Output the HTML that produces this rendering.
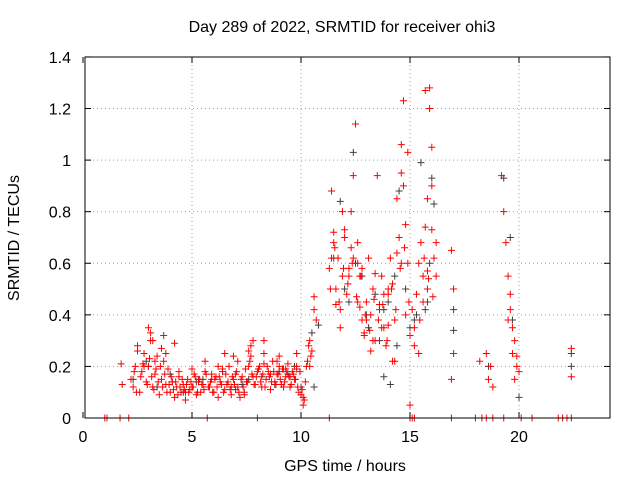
<!DOCTYPE html>
<html><head><meta charset="utf-8"><style>
body{margin:0;background:#fff;}
svg text{font-family:"Liberation Sans",sans-serif;font-size:16px;fill:#000;}
</style></head><body>
<svg id="chart" width="640" height="480" xmlns="http://www.w3.org/2000/svg">
<rect width="640" height="480" fill="#fff"/>
<g id="grid"></g>
<g id="pts"></g>
<rect x="85" y="57" width="525" height="361" fill="none" stroke="#000" stroke-width="1"/>
<g id="ticks"></g>
<text x="342" y="32" text-anchor="middle">Day 289 of 2022, SRMTID for receiver ohi3</text>
<text x="345" y="471" text-anchor="middle">GPS time / hours</text>
<text transform="translate(19,238) rotate(-90)" text-anchor="middle">SRMTID / TECUs</text>
</svg>
<script>
const xTicks=[0,5,10,15,20];
const yTicks=[0,0.2,0.4,0.6,0.8,1,1.2,1.4];
const yTickLabels=["0","0.2","0.4","0.6","0.8","1","1.2","1.4"];
const redT=[1.0,1.1,1.7,2.1,5.7,8.0,11.3,15.0,15.1,15.2,16.9,18.0,18.3,18.5,18.8,19.3,20.1,20.6,21.8,22.0,22.2,22.4,
1.75,1.8,2.2,2.3,2.4,2.5,2.6,2.7,2.8,2.9,3.0,3.1,3.2,3.3,3.4,3.5,3.6,3.7,3.8,3.9,4.0,4.1,4.2,4.3,4.4,4.5,4.6,4.7,4.8,4.9,5.0,5.1,5.2,5.3,5.4,5.5,5.6,5.8,5.9,6.0,6.1,6.2,6.3,6.4,6.5,6.6,6.7,6.8,6.9,7.0,7.1,7.2,7.3,7.4,7.5,7.6,7.7,7.8,7.9,8.1,8.2,8.3,8.4,8.5,8.6,8.7,8.8,8.9,9.0,9.1,9.2,9.3,9.4,9.5,9.6,9.7,9.8,9.9,10.0,10.1,10.2,10.3,10.4,10.5,
2.5,2.8,3.1,3.3,3.6,3.8,4.1,4.4,4.7,5.0,5.3,5.6,5.9,6.2,6.5,6.8,7.1,7.4,7.7,8.0,8.3,8.6,8.9,9.2,9.5,9.8,10.1,10.4,
3.0,3.2,3.7,4.2,6.9,7.6,7.8,8.3,9.0,9.3,9.8,10.6,10.6,10.7,
2.35,2.45,2.65,2.75,2.95,3.05,3.15,3.25,3.35,3.45,3.55,3.65,3.75,3.85,3.95,4.05,4.15,4.25,4.35,4.45,4.55,4.65,4.75,4.85,4.95,5.05,5.15,5.25,5.35,5.45,5.55,5.65,5.75,5.85,5.95,6.05,6.15,6.25,6.35,6.45,6.55,6.65,6.75,6.85,6.95,7.05,7.15,7.25,7.35,7.45,7.55,7.65,7.75,7.85,7.95,8.05,8.15,8.25,8.35,8.45,8.55,8.65,8.75,8.85,8.95,9.05,9.15,9.25,9.35,9.45,9.55,9.65,9.75,9.85,9.95,10.05,10.15,10.25,10.35,10.45,
11.3,11.4,11.5,11.6,11.7,11.8,11.9,12.0,12.1,12.2,12.3,12.4,12.5,12.6,12.7,12.8,12.9,13.0,13.1,13.2,13.3,13.4,13.5,13.6,13.7,13.8,13.9,14.0,14.1,14.2,14.3,14.4,14.5,14.6,14.7,14.8,14.9,15.0,15.1,15.2,15.3,15.4,15.5,15.6,15.7,15.8,15.9,16.0,16.1,16.2,
11.4,11.6,11.8,12.0,12.2,12.4,12.6,12.8,13.0,13.2,13.4,13.6,13.8,14.0,14.2,14.4,14.6,14.8,15.0,15.2,15.4,15.6,15.8,16.0,16.2,
11.35,11.55,11.75,11.95,12.15,12.35,12.55,12.75,12.95,13.15,13.35,13.55,13.75,13.95,14.15,14.35,14.55,14.75,14.95,15.45,15.65,15.85,16.05,
11.5,11.9,12.3,12.6,12.7,13.3,13.7,14.0,14.3,14.7,14.9,15.7,15.9,16.0,15.8,14.6,12.9,16.9,17.0,17.0,16.9,18.2,18.5,18.6,18.7,18.8,19.2,19.3,19.4,19.5,19.6,19.7,19.8,19.9,20.0,19.5,19.6,19.7,22.4,22.4,19.8,19.9];
const redV=[0,0,0,0,0,0,0,0,0,0,0,0,0,0,0,0,0,0,0,0,0,0,
0.21,0.13,0.15,0.12,0.2,0.28,0.1,0.18,0.25,0.14,0.2,0.3,0.12,0.17,0.24,0.09,0.15,0.22,0.13,0.19,0.1,0.14,0.08,0.12,0.16,0.1,0.13,0.07,0.15,0.11,0.12,0.17,0.09,0.14,0.1,0.13,0.18,0.12,0.15,0.1,0.16,0.08,0.14,0.19,0.11,0.13,0.2,0.09,0.15,0.17,0.12,0.08,0.16,0.1,0.14,0.2,0.28,0.16,0.13,0.2,0.12,0.25,0.15,0.18,0.11,0.22,0.14,0.17,0.2,0.13,0.19,0.16,0.21,0.12,0.18,0.15,0.2,0.1,0.09,0.05,0.14,0.22,0.3,0.26,
0.26,0.2,0.33,0.22,0.27,0.25,0.14,0.18,0.1,0.19,0.15,0.22,0.17,0.2,0.25,0.12,0.22,0.09,0.24,0.18,0.21,0.17,0.22,0.12,0.16,0.19,0.08,0.2,
0.35,0.3,0.32,0.29,0.24,0.26,0.3,0.3,0.24,0.19,0.25,0.47,0.42,0.38,
0.18,0.1,0.16,0.21,0.13,0.23,0.16,0.11,0.19,0.14,0.2,0.12,0.17,0.1,0.13,0.16,0.11,0.14,0.09,0.12,0.15,0.11,0.13,0.1,0.14,0.12,0.16,0.1,0.15,0.13,0.11,0.17,0.12,0.14,0.1,0.15,0.12,0.16,0.13,0.1,0.17,0.14,0.11,0.16,0.13,0.18,0.1,0.15,0.12,0.19,0.14,0.22,0.17,0.13,0.16,0.19,0.14,0.17,0.12,0.2,0.16,0.14,0.18,0.13,0.17,0.15,0.19,0.14,0.18,0.16,0.13,0.17,0.15,0.12,0.18,0.11,0.07,0.2,0.28,0.24,
0.58,0.88,0.72,0.5,0.62,0.42,0.55,0.7,0.48,0.58,0.8,0.62,1.14,0.45,0.55,0.38,0.32,0.45,0.62,0.4,0.5,0.3,0.94,0.44,0.55,0.35,0.28,0.48,0.62,0.52,0.22,0.85,0.7,0.95,1.23,0.75,1.03,0.05,0.42,0.35,0.48,0.6,0.68,0.55,1.27,0.5,1.2,0.9,0.62,0.68,
0.62,0.44,0.35,0.73,0.55,0.94,0.68,0.58,0.38,0.26,0.56,0.42,0.48,0.36,0.22,0.64,0.6,0.4,0.32,0.28,0.25,0.45,0.57,0.73,0.55,
0.5,0.66,0.45,0.58,0.52,0.6,0.47,0.55,0.4,0.34,0.46,0.38,0.44,0.3,0.5,0.42,0.58,0.66,0.45,0.38,0.62,0.54,0.47,
0.68,0.8,0.66,0.6,0.43,0.3,0.35,0.5,0.38,0.9,0.6,0.74,1.28,1.05,0.85,1.06,0.33,0.65,0.5,0.25,0.15,0.22,0.25,0.15,0.2,0.12,0.94,0.8,0.68,0.55,0.42,0.35,0.3,0.2,0.18,0.38,0.48,0.25,0.27,0.16,0.15,0.24];
const grayT=[2.3,2.9,3.4,4.0,4.6,5.2,5.8,6.4,7.0,7.6,8.2,8.8,9.4,10.0,10.5,10.8,11.5,11.8,12.2,12.4,12.5,12.8,13.1,13.4,13.6,13.8,14.1,14.3,14.5,14.8,15.0,15.3,15.5,15.7,15.9,16.0,16.1,17.0,17.0,18.6,19.3,19.6,19.7,20.0,22.4,22.4,13.8,14.4,15.8,10.6,3.0,5.5,7.3,9.0,9.7,12.0,13.0,14.0,15.2];
const grayV=[0.15,0.22,0.12,0.17,0.1,0.14,0.12,0.18,0.11,0.15,0.16,0.13,0.17,0.12,0.33,0.36,0.62,0.84,0.45,1.03,0.6,0.55,0.35,0.48,0.3,0.42,0.13,0.55,0.88,0.5,0.35,0.4,0.99,0.42,0.6,0.93,0.83,0.34,0.42,0.2,0.93,0.7,0.38,0.08,0.25,0.2,0.16,0.28,0.45,0.12,0.2,0.15,0.13,0.18,0.2,0.5,0.4,0.45,0.38];
const X=t=>83+t*21.8, Y=v=>418-v*257.9;
const NS="http://www.w3.org/2000/svg";
const grid=document.getElementById('grid'),ticks=document.getElementById('ticks'),pts=document.getElementById('pts');
function el(n,a,p){const e=document.createElementNS(NS,n);for(const k in a)e.setAttribute(k,a[k]);p.appendChild(e);return e;}
xTicks.forEach(t=>{const x=X(t);
 if(t>0){const g=el('line',{x1:x,y1:57,x2:x,y2:418,stroke:'#a0a0a0','stroke-dasharray':'1,3'},grid);
 
 }
 el('line',{x1:x,y1:418,x2:x,y2:412,stroke:'#000'},ticks);el('line',{x1:x,y1:57,x2:x,y2:63,stroke:'#000'},ticks);
 const tx=el('text',{x:x,y:442,'text-anchor':'middle'},ticks);tx.textContent=t;
 
 });
yTicks.forEach((v,i)=>{const y=Y(v);
 if(v>0&&v<1.4){const g=el('line',{x1:85,y1:y,x2:610,y2:y,stroke:'#a0a0a0','stroke-dasharray':'1,3'},grid);
 
 }
 el('line',{x1:85,y1:y,x2:91,y2:y,stroke:'#000'},ticks);el('line',{x1:610,y1:y,x2:604,y2:y,stroke:'#000'},ticks);
 const tx=el('text',{x:71,y:y+6,'text-anchor':'end'},ticks);tx.textContent=yTickLabels[i];
 
 });
function plus(t,v,c,name){const x=X(t),y=Y(v);
 const p=el('path',{d:`M${x-3.5},${y}H${x+3.5}M${x},${y-3.5}V${y+3.5}`,stroke:c,'stroke-width':1,fill:'none'},pts);
 
 }
grayT.forEach((t,i)=>plus(t,grayV[i],'#404040','gray-point'));
redT.forEach((t,i)=>plus(t,redV[i],'#ff0000','red-point'));
</script>
</body></html>
